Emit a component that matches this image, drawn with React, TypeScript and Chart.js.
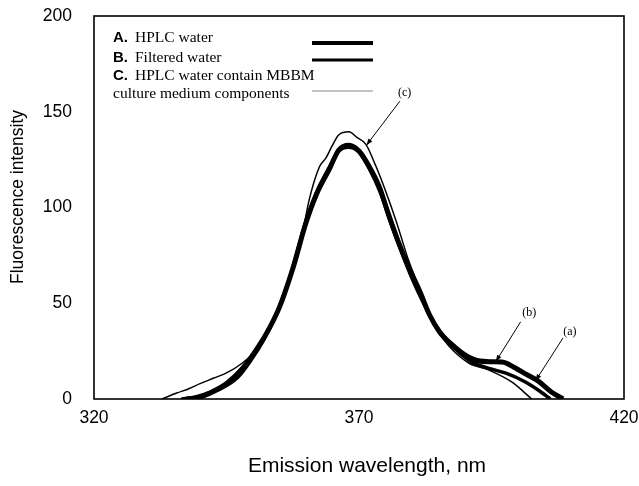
import React, { useEffect, useRef } from "react";
import { Chart, registerables } from "chart.js";

Chart.register(...registerables);

// Series A: HPLC water (thickest line)
const wavelengthA = [337.5, 340, 343, 347, 349.5, 352, 355, 357.5, 360, 362, 364.4, 366.2, 368.1, 370, 371.9, 373.8, 375.5, 377.3, 379.5, 381.5, 383.3, 385.2, 387.5, 390, 392.5, 395, 397, 399.5, 401.5, 403.5, 406.3, 408.5];
const intensityA = [0, 1, 4.5, 11.5, 20.5, 31.5, 48, 68, 92, 107, 120, 130, 132.5, 129.5, 121.5, 111, 97, 83, 68, 56, 44, 35, 28.5, 23, 20, 19.5, 19.3, 16.2, 13, 10, 3.7, 0];

// Series B: Filtered water
const wavelengthB = [336.5, 339, 342, 345, 348, 351, 354, 357, 360, 362, 364.4, 366.2, 368, 370, 372, 374, 376, 378, 380, 382, 384, 386.5, 389, 391.5, 394.5, 397.6, 401.4, 403.8, 406.1];
const intensityB = [0, 1, 3.8, 8.5, 16.5, 28, 42, 64, 93, 108, 121, 129.5, 131.5, 129, 120, 108, 92, 77, 63, 51, 40.5, 31, 24, 19, 16, 13.6, 8.9, 4.7, 0];

// Series C: HPLC water containing MBBM culture medium components (thin line)
const wavelengthC = [332.8, 335.6, 338, 340, 342.5, 345, 348, 351.2, 353, 355, 357, 359, 360.6, 362.5, 363.8, 364.9, 366.2, 368.1, 369.6, 371.3, 373.2, 375.1, 377, 379.4, 381.5, 383.2, 385, 387, 390.7, 394.4, 398.8, 402.6];
const intensityC = [0, 3.1, 5.5, 8, 10.8, 13.6, 18.8, 27.2, 35, 48, 63, 82, 104, 121, 126, 132, 138, 139.5, 136.6, 133, 121.5, 108, 93, 72, 57, 45, 35, 27.5, 18.8, 15.2, 8.9, 0];

const xTicks = [320, 370, 420];
const yTicks = [0, 50, 100, 150, 200];

const legendLetters = ["A.", "B.", "C.", ""];
const legendTexts = ["HPLC water", "Filtered water", "HPLC water contain MBBM", "culture medium components"];

const annotationLabels = ["(c)", "(b)", "(a)"];
const annotationLabelX = [378.6, 402.1, 409.8];
const annotationLabelY = [160, 45, 35];
const arrowStartX = [377.7, 400.5, 408.5];
const arrowStartY = [155.5, 40.3, 31.9];
const arrowTipX = [371.4, 395.8, 403.3];
const arrowTipY = [132.5, 19.5, 9.5];

const SANS = "'Liberation Sans', Arial, sans-serif";
const SERIF = "'Liberation Serif', 'Times New Roman', serif";

const overlayPlugin = {
  id: "overlay",
  beforeDatasetsDraw(chart: any) {
    const { ctx, chartArea: ca } = chart;
    ctx.save();
    ctx.strokeStyle = "#000";
    ctx.lineWidth = 1.6;
    ctx.strokeRect(ca.left, ca.top, ca.right - ca.left, ca.bottom - ca.top);
    ctx.restore();
  },
  afterDraw(chart: any) {
    const { ctx, chartArea: ca, scales } = chart;
    const xs = scales.x;
    const ys = scales.y;
    ctx.save();
    ctx.fillStyle = "#000";
    ctx.textBaseline = "middle";

    // Legend
    const rowY = [22, 41.5, 60, 78];
    legendTexts.forEach((t, i) => {
      const y0 = ca.top + rowY[i];
      let tx = ca.left + 19;
      if (legendLetters[i]) {
        ctx.font = `bold 15px ${SANS}`;
        ctx.textAlign = "left";
        ctx.fillText(legendLetters[i], ca.left + 19, y0);
        tx = ca.left + 41;
      }
      ctx.font = `15.5px ${SERIF}`;
      ctx.textAlign = "left";
      ctx.fillText(t, tx, y0);
    });
    const lineRowY = [27, 44, null, 75];
    const lineW = [4, 3, 0, 1];
    const lineC = ["#000", "#000", "#000", "#888"];
    lineRowY.forEach((ly, i) => {
      if (ly === null) return;
      ctx.beginPath();
      ctx.strokeStyle = lineC[i];
      ctx.lineWidth = lineW[i];
      ctx.moveTo(ca.left + 218, ca.top + ly);
      ctx.lineTo(ca.left + 279, ca.top + ly);
      ctx.stroke();
    });

    // Annotations with arrows
    annotationLabels.forEach((lab, i) => {
      ctx.font = `12px ${SERIF}`;
      ctx.textAlign = "center";
      ctx.fillStyle = "#000";
      ctx.fillText(lab, xs.getPixelForValue(annotationLabelX[i]), ys.getPixelForValue(annotationLabelY[i]));
      const sx = xs.getPixelForValue(arrowStartX[i]);
      const sy = ys.getPixelForValue(arrowStartY[i]);
      const tx = xs.getPixelForValue(arrowTipX[i]);
      const ty = ys.getPixelForValue(arrowTipY[i]);
      ctx.beginPath();
      ctx.strokeStyle = "#000";
      ctx.lineWidth = 1;
      ctx.moveTo(sx, sy);
      ctx.lineTo(tx, ty);
      ctx.stroke();
      const ang = Math.atan2(ty - sy, tx - sx);
      const hl = 7;
      const hw = 0.35;
      ctx.beginPath();
      ctx.moveTo(tx, ty);
      ctx.lineTo(tx - hl * Math.cos(ang - hw), ty - hl * Math.sin(ang - hw));
      ctx.lineTo(tx - hl * Math.cos(ang + hw), ty - hl * Math.sin(ang + hw));
      ctx.closePath();
      ctx.fill();
    });

    // Y axis title
    ctx.save();
    ctx.translate(18, 197);
    ctx.rotate(-Math.PI / 2);
    ctx.font = `17.5px ${SANS}`;
    ctx.textAlign = "center";
    ctx.fillText("Fluorescence intensity", 0, 0);
    ctx.restore();

    // X axis title
    ctx.font = `21px ${SANS}`;
    ctx.textAlign = "center";
    ctx.fillText("Emission wavelength, nm", 367, 466);
    ctx.restore();
  },
};

export default function App() {
  const ref = useRef<HTMLCanvasElement | null>(null);

  useEffect(() => {
    if (!ref.current) return;
    const mk = (xs: number[], ys: number[]) => xs.map((v, i) => ({ x: v, y: ys[i] }));
    const chart = new Chart(ref.current, {
      type: "scatter",
      data: {
        datasets: [
          {
            label: "A. HPLC water",
            data: mk(wavelengthA, intensityA),
            showLine: true,
            borderColor: "#000",
            borderWidth: 5,
            pointRadius: 0,
            cubicInterpolationMode: "monotone",
          },
          {
            label: "B. Filtered water",
            data: mk(wavelengthB, intensityB),
            showLine: true,
            borderColor: "#000",
            borderWidth: 3.5,
            pointRadius: 0,
            cubicInterpolationMode: "monotone",
          },
          {
            label: "C. HPLC water contain MBBM culture medium components",
            data: mk(wavelengthC, intensityC),
            showLine: true,
            borderColor: "#000",
            borderWidth: 1.5,
            pointRadius: 0,
            cubicInterpolationMode: "monotone",
          },
        ],
      },
      options: {
        responsive: false,
        animation: false,
        layout: { padding: { top: 16, right: 15, bottom: 0, left: 0 } },
        plugins: {
          legend: { display: false },
          tooltip: { enabled: false },
        },
        scales: {
          x: {
            type: "linear",
            min: 320,
            max: 420,
            afterBuildTicks: (s: any) => {
              s.ticks = xTicks.map((v) => ({ value: v }));
            },
            afterFit: (s: any) => {
              s.height = 87;
              s.paddingLeft = 0;
              s.paddingRight = 0;
              s.paddingTop = 0;
              s.paddingBottom = 0;
            },
            grid: { display: false, drawTicks: false },
            border: { display: false },
            ticks: {
              color: "#000",
              padding: 9,
              maxRotation: 0,
              font: { family: SANS, size: 17.5 },
            },
          },
          y: {
            type: "linear",
            min: 0,
            max: 200,
            afterBuildTicks: (s: any) => {
              s.ticks = yTicks.map((v) => ({ value: v }));
            },
            afterFit: (s: any) => {
              s.width = 94;
              s.paddingLeft = 0;
              s.paddingRight = 0;
              s.paddingTop = 0;
              s.paddingBottom = 0;
            },
            grid: { display: false, drawTicks: false },
            border: { display: false },
            ticks: {
              color: "#000",
              padding: 22,
              font: { family: SANS, size: 17.5 },
            },
          },
        },
      },
      plugins: [overlayPlugin],
    } as any);
    return () => chart.destroy();
  }, []);

  return (
    <div style={{ position: "absolute", left: 0, top: 0, width: 639, height: 486, background: "#fff" }}>
      <canvas ref={ref} width={639} height={486} style={{ width: 639, height: 486 }} />
    </div>
  );
}
